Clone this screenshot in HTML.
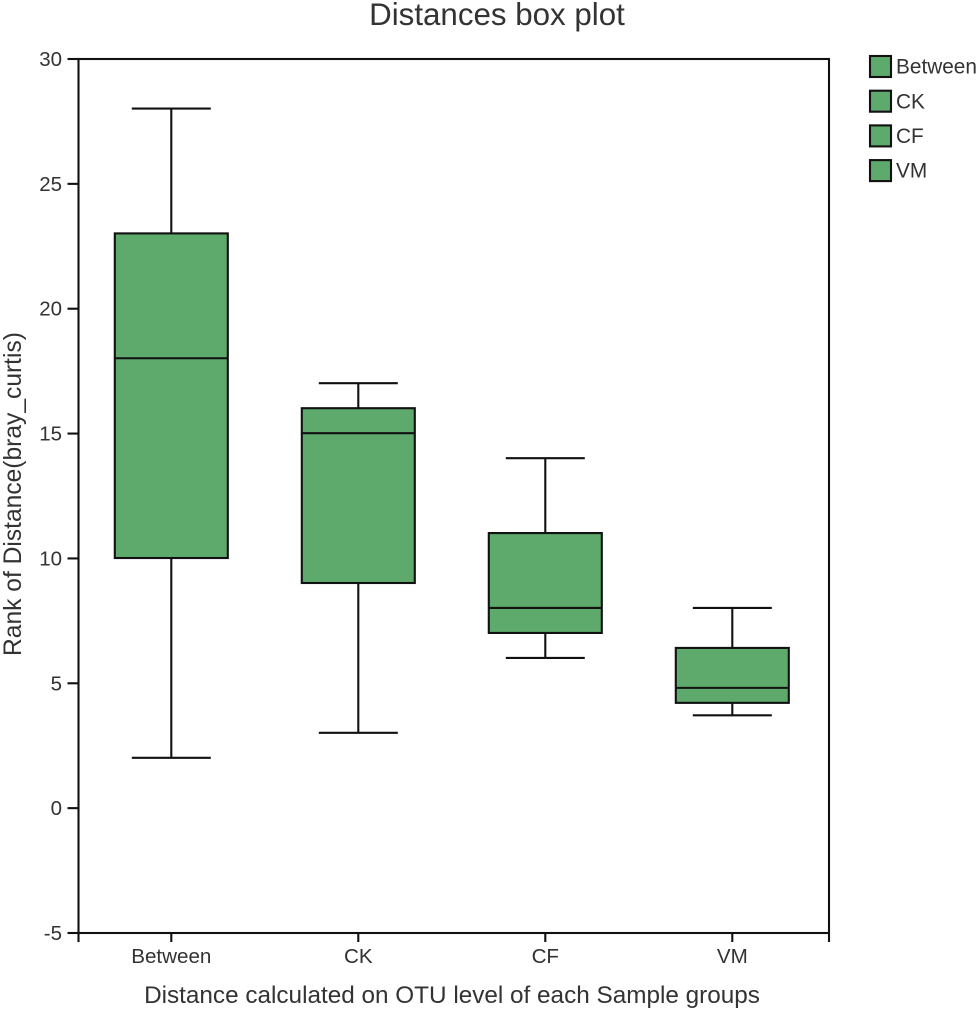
<!DOCTYPE html>
<html>
<head>
<meta charset="utf-8">
<title>Distances box plot</title>
<style>
html,body{margin:0;padding:0;background:#fff;}
svg{display:block;font-family:"Liberation Sans",Arial,sans-serif;}
text{fill:#333;}
</style>
</head>
<body>
<svg id="chart" width="978" height="1011" viewBox="0 0 978 1011" xmlns="http://www.w3.org/2000/svg">
<text x="497" y="25" text-anchor="middle" font-size="31.3">Distances box plot</text>
<text x="452" y="1003" text-anchor="middle" font-size="24.3">Distance calculated on OTU level of each Sample groups</text>
<text transform="translate(21,494) rotate(-90)" text-anchor="middle" font-size="24.6">Rank of Distance(bray_curtis)</text>
<g id="boxes"></g>
<g id="axes"></g>
<g id="legend"></g>
</svg>
<script>
const categories = ['Between', 'CK', 'CF', 'VM'];
const whiskerHigh = [28, 17, 14, 8];
const quartile3 = [23, 16, 11, 6.4];
const medians = [18, 15, 8, 4.8];
const quartile1 = [10, 9, 7, 4.2];
const whiskerLow = [2, 3, 6, 3.7];
const yTicks = [30, 25, 20, 15, 10, 5, 0, -5];

const NS = 'http://www.w3.org/2000/svg';
const plot = {left: 78.5, right: 829, top: 59, bottom: 933};
const yMin = -5, yMax = 30;
const boxColor = '#5ea96c', ink = '#111';

function yScale(v) {
  return plot.bottom - (v - yMin) / (yMax - yMin) * (plot.bottom - plot.top) - 0.4;
}
function xScale(i) {
  const band = 187;
  return plot.left + band * (i + 0.5) - 0.7;
}
function make(parent, tag, attrs, text) {
  const el = document.createElementNS(NS, tag);
  for (const k in attrs) el.setAttribute(k, attrs[k]);
  if (text !== undefined) el.textContent = text;
  parent.appendChild(el);
  return el;
}
function line(parent, x1, y1, x2, y2, w) {
  return make(parent, 'line', {x1: x1, y1: y1, x2: x2, y2: y2, stroke: ink, 'stroke-width': w || 2.1});
}

const boxes = document.getElementById('boxes');
const axes = document.getElementById('axes');
const legend = document.getElementById('legend');

categories.forEach(function (name, i) {
  const cx = xScale(i);
  const g = make(boxes, 'g', {});
  
  

  const stem = line(g, cx, yScale(whiskerHigh[i]), cx, yScale(whiskerLow[i]));
  
  

  const capHigh = line(g, cx - 39.5, yScale(whiskerHigh[i]), cx + 39.5, yScale(whiskerHigh[i]));
  
  

  const capLow = line(g, cx - 39.5, yScale(whiskerLow[i]), cx + 39.5, yScale(whiskerLow[i]));
  
  

  const rect = make(g, 'rect', {
    x: cx - 56.5,
    y: yScale(quartile3[i]),
    width: 113,
    height: yScale(quartile1[i]) - yScale(quartile3[i]),
    fill: boxColor,
    stroke: ink,
    'stroke-width': 2.1
  });
  
  

  const med = line(g, cx - 56.5, yScale(medians[i]), cx + 56.5, yScale(medians[i]));
  
  

  const tick = line(axes, cx, plot.bottom, cx, plot.bottom + 9);
  
  

  const label = make(axes, 'text', {x: cx, y: 963, 'text-anchor': 'middle', 'font-size': 20.6}, name);
  
  

  const ly = 67 + i * 34.7;
  const swatch = make(legend, 'rect', {x: 870, y: ly - 11, width: 21, height: 21, fill: boxColor, stroke: ink, 'stroke-width': 2.1});
  
  

  const entry = make(legend, 'text', {x: 896, y: ly + 6.6, 'font-size': 20.8}, name);
  
  
});

const frame = make(axes, 'rect', {x: plot.left, y: plot.top, width: plot.right - plot.left, height: plot.bottom - plot.top, fill: 'none', stroke: ink, 'stroke-width': 2.1});



const tickEndLeft = line(axes, plot.left, plot.bottom, plot.left, plot.bottom + 9);



const tickEndRight = line(axes, plot.right, plot.bottom, plot.right, plot.bottom + 9);



yTicks.forEach(function (v) {
  const y = plot.bottom - (v - yMin) / (yMax - yMin) * (plot.bottom - plot.top);
  const tick = line(axes, plot.left - 11, y, plot.left, y);
  
  

  const label = make(axes, 'text', {x: 62, y: y + 7, 'text-anchor': 'end', 'font-size': 20.5}, String(v));
  
  
});
</script>
</body>
</html>
